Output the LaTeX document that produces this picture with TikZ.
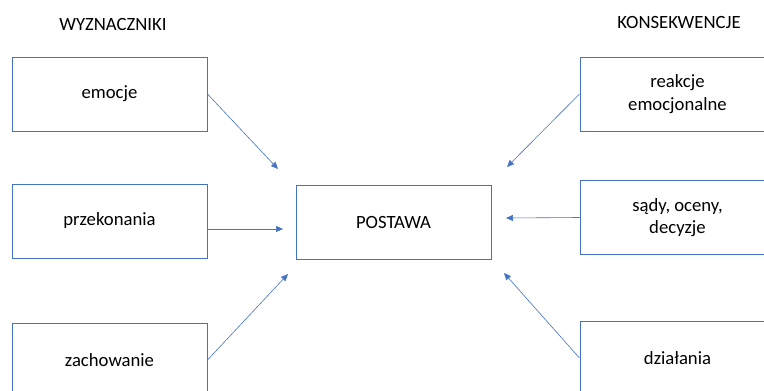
\documentclass[tikz,border=0pt]{standalone}
\usepackage{fontspec}
\setmainfont{Carlito}
\usetikzlibrary{arrows.meta}
\definecolor{boxblue}{HTML}{4472C4}
\tikzset{
  box/.style={draw=boxblue, line width=1pt, minimum width=195pt, minimum height=74pt, align=center},
  head/.style={inner sep=0pt},
  link/.style={draw=boxblue, line width=0.6pt, -{Triangle[length=7pt,width=6pt]}}
}
\begin{document}
\begin{tikzpicture}[x=1pt, y=-1pt, font=\fontsize{18.7}{22.4}\selectfont]
      \path[use as bounding box, clip] (0,0) rectangle (764,391);
      \draw
        (113,24) node[head] (wyz){WYZNACZNIKI}
        (679,22) node[head] (kons){KONSEKWENCJE}
        (109.5,94) node[box] (emocje){emocje}
        (109.5,221) node[box] (przekonania){przekonania}
        (109.5,360) node[box] (zachowanie){zachowanie}
        (393.5,222) node[box] (postawa){POSTAWA}
        (677.5,94) node[box] (reakcje){reakcje\\emocjonalne}
        (677.5,217.5) node[box] (sady){sądy, oceny,\\decyzje}
        (677.5,358) node[box] (dzialania){działania};
      \coordinate (e1) at (278,169);
      \coordinate (e2) at (283,229);
      \coordinate (e3) at (288,274);
      \coordinate (k1) at (507,167);
      \coordinate (k2) at (506,218);
      \coordinate (k3) at (504,273);
      \begin{scope}[link]
        \draw (emocje.east) to (e1);
        \draw ([yshift=-8pt]przekonania.east) to (e2);
        \draw (zachowanie.east) to (e3);
        \draw (reakcje.west) to (k1);
        \draw (sady.west) to (k2);
        \draw (dzialania.west) to (k3);
      \end{scope}
    \end{tikzpicture}
\end{document}
